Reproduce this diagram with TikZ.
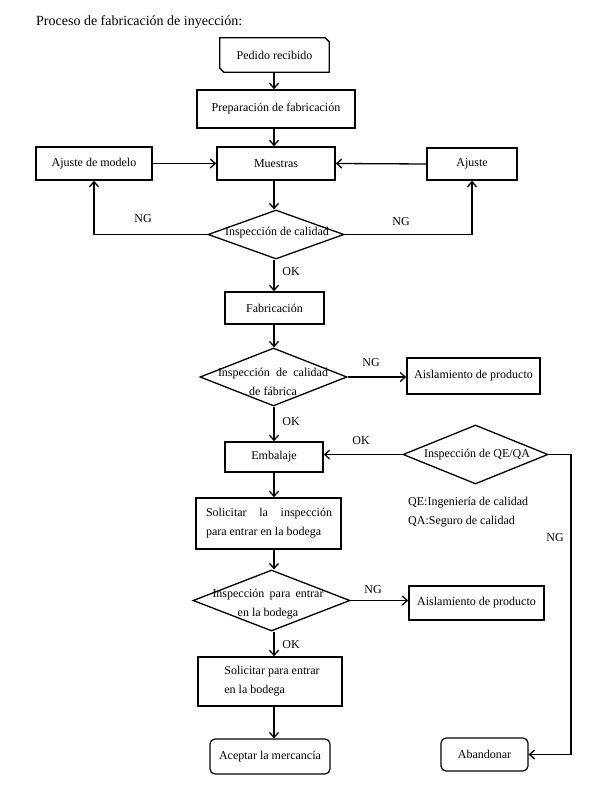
\documentclass[tikz,border=0pt]{standalone}
\usepackage{fontspec}
\setmainfont{Liberation Serif}
\usetikzlibrary{shapes.geometric,arrows.meta,calc}
\begin{document}
\begin{tikzpicture}[x=1pt,y=-1pt,
  font=\fontsize{12}{18.5}\selectfont,
  box/.style={draw, line width=1.6pt, inner sep=0pt, align=center},
  rbox/.style={draw, line width=1.2pt, rounded corners=5pt, inner sep=0pt, align=center},
  dia/.style={draw, diamond, line width=1.3pt, inner sep=0pt},
  conn/.style={line width=1.3pt, -{Straight Barb[length=5pt,width=9pt,line width=1.3pt]}},
  plain/.style={line width=1.3pt},
  lbl/.style={inner sep=0pt}]
\useasboundingbox (0,0) rectangle (606,786);
\coordinate (spine) at (274,0);
\coordinate (rt) at (571,0);

\node[lbl, anchor=base west, font=\fontsize{14}{16}\selectfont] (title) at (36,26) {Proceso de fabricación de inyección:};

% start node
\node[lbl, minimum width=109pt, minimum height=34pt] (ped) at (274.5,55) {Pedido recibido};
\draw[line width=1.3pt] (ped.north west) -- ($(ped.north east)+(-4,0)$) -- ($(ped.north east)+(0,4)$)
  -- (ped.south east) -- ($(ped.south west)+(4,0)$) -- ($(ped.south west)+(0,-4)$) -- cycle;

\node[box, minimum width=158pt, minimum height=38pt] (prep) at (276,109) {Preparación de fabricación};
\node[box, minimum width=118pt, minimum height=33pt] (mue) at (276,163.5) {Muestras};
\node[box, minimum width=116pt, minimum height=33pt] (amod) at (94,163.5) {Ajuste de modelo};
\node[box, minimum width=90pt, minimum height=32pt] (aju) at (472,164) {Ajuste};

\node[dia, minimum width=136pt, minimum height=49pt] (d1) at (276,234.5) {};
\node[lbl] (d1t) at (277,233) {Inspección de calidad};

\node[box, minimum width=99pt, minimum height=32pt] (fab) at (274.5,308) {Fabricación};

\node[dia, minimum width=147pt, minimum height=58pt] (d2) at (273.5,377) {};
\node[lbl, align=center] (d2t) at (273,382) {\makebox[110pt][s]{Inspección de calidad}\\de fábrica};

\node[box, minimum width=133pt, minimum height=36pt] (ais1) at (473.5,376) {Aislamiento de producto};

\node[box, minimum width=98pt, minimum height=30pt] (emb) at (274,457) {Embalaje};

\node[dia, minimum width=145pt, minimum height=59pt] (d3) at (475.5,454.5) {};
\node[lbl] (d3t) at (477,455) {Inspección de QE/QA};

\node[lbl, anchor=west, align=left] (qeqa) at (408,512) {QE:Ingeniería de calidad\\QA:Seguro de calidad};

\node[box, minimum width=145pt, minimum height=51pt] (sol1) at (268.5,523.5) {};
\node[lbl, align=left] (sol1t) at (269,523) {\makebox[126pt][s]{Solicitar la inspección}\\para entrar en la bodega};

\node[dia, minimum width=157pt, minimum height=61pt] (d4) at (271.5,600.5) {};
\node[lbl, align=center] (d4t) at (268,604) {\makebox[111pt][s]{Inspección para entrar}\\en la bodega};

\node[box, minimum width=135pt, minimum height=34pt] (ais2) at (476.5,603) {Aislamiento de producto};

\node[box, minimum width=144pt, minimum height=49pt] (sol2) at (270,681.5) {};
\node[lbl, align=left] (sol2t) at (272,681) {Solicitar para entrar\\en la bodega};

\node[rbox, minimum width=120pt, minimum height=35pt] (acep) at (270,756.5) {Aceptar la mercancía};
\node[rbox, minimum width=87pt, minimum height=33pt] (aban) at (484.5,754.5) {Abandonar};

% connectors
\draw[conn] (ped.south -| spine) -- (prep.north -| spine);
\draw[conn] (prep.south -| spine) -- (mue.north -| spine);
\draw[conn] (amod.east) -- (mue.west);
\draw[conn] (aju.west) -- (mue.east);
\draw[conn] (mue.south -| spine) -- (d1.north -| spine);
\draw[conn] (d1.west) -| (amod.south);
\draw[conn] (d1.east) -| (aju.south);
\draw[conn] (d1.south -| spine) -- (fab.north -| spine);
\draw[conn] (fab.south -| spine) -- (d2.north -| spine);
\draw[conn] (d2.east) -- (ais1.west |- d2.east);
\draw[conn] (d2.south -| spine) -- (emb.north -| spine);
\draw[conn] (d3.west) -- (emb.east |- d3.west);
\draw[conn] (d3.east) -- (d3.east -| rt) |- (aban.east);
\draw[conn] (emb.south -| spine) -- (sol1.north -| spine);
\draw[conn] (sol1.south -| spine) -- (d4.north -| spine);
\draw[conn] (d4.east) -- (ais2.west |- d4.east);
\draw[conn] (d4.south -| spine) -- (sol2.north -| spine);
\draw[conn] (sol2.south -| spine) -- (acep.north -| spine);

% labels
\node[lbl] (ng1) at (143,219) {NG};
\node[lbl] (ng2) at (401,222) {NG};
\node[lbl] (ok1) at (291,272) {OK};
\node[lbl] (ng3) at (371,363) {NG};
\node[lbl] (ok2) at (291,422) {OK};
\node[lbl] (ok3) at (361,441) {OK};
\node[lbl] (ng4) at (555,538) {NG};
\node[lbl] (ng5) at (373,590) {NG};
\node[lbl] (ok4) at (291,645) {OK};
\end{tikzpicture}
\end{document}
